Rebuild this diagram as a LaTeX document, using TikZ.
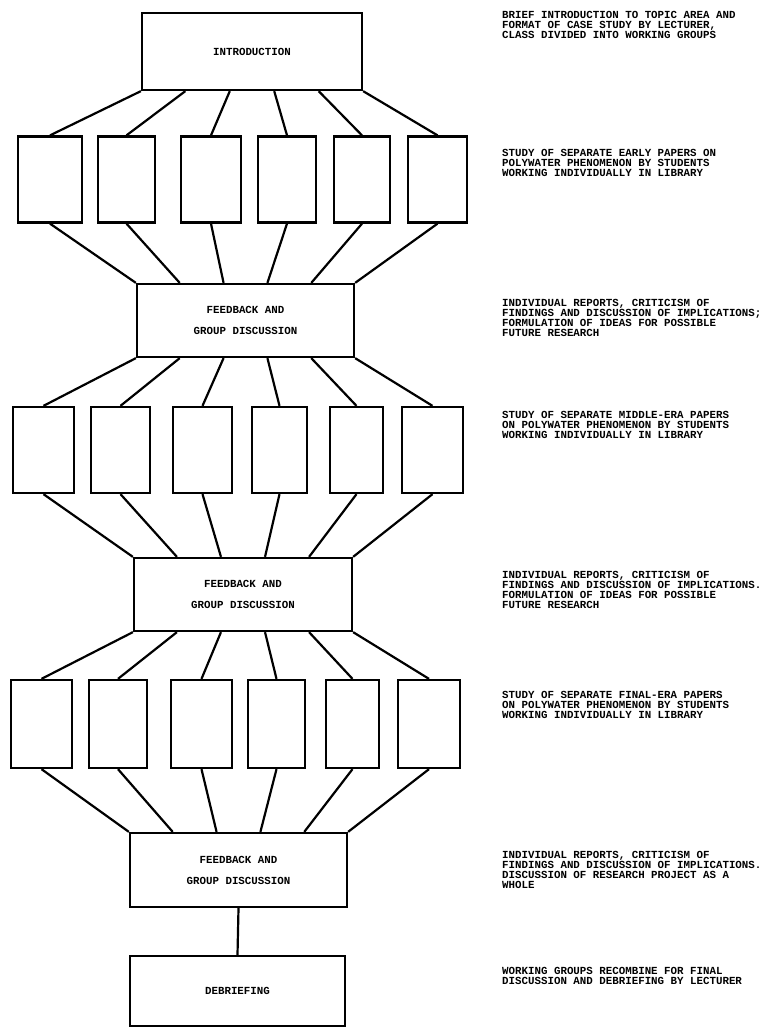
\documentclass[tikz,border=0pt]{standalone}
\usepackage{fontspec}
\newfontfamily\scanfont{Liberation Mono}
\usetikzlibrary{calc}

\tikzset{
  stage/.style={draw, line width=2.3pt, inner sep=0pt, align=center,
    font=\scanfont\bfseries\fontsize{10.8}{21}\selectfont},
  paper/.style={draw, line width=2.3pt, inner sep=0pt, minimum height=86pt},
  note/.style={anchor=north west, inner sep=0pt, align=left,
    font=\scanfont\bfseries\fontsize{10.8}{9.8}\selectfont},
  link/.style={line width=2.2pt}
}

\begin{document}
\begin{tikzpicture}[x=1pt, y=-1pt]
	\useasboundingbox (0,0) rectangle (766,1028);

	\node[stage, minimum width=220pt, minimum height=77pt] (intro) at (252,51.5) {INTRODUCTION};
	\node[stage, minimum width=217pt, minimum height=73pt] (fba) at (245.5,320.5) {FEEDBACK AND\\GROUP DISCUSSION};
	\node[stage, minimum width=218pt, minimum height=73pt] (fbb) at (243,594.5) {FEEDBACK AND\\GROUP DISCUSSION};
	\node[stage, minimum width=217pt, minimum height=74pt] (fbc) at (238.5,870) {FEEDBACK AND\\GROUP DISCUSSION};
	\node[stage, minimum width=215pt, minimum height=70pt] (debrief) at (237.5,991) {DEBRIEFING};

	% library papers, three rounds
	\foreach \x/\w [count=\i] in {50/64, 126.5/57, 211/60, 287/58, 362/56, 437.5/59}
		\node[paper, minimum width=\w pt] (a\i) at (\x,179.5) {};
	\foreach \x/\w [count=\i] in {43.5/61, 120.5/59, 202.5/59, 279.5/55, 356.5/53, 432.5/61}
		\node[paper, minimum width=\w pt] (b\i) at (\x,450) {};
	\foreach \x/\w [count=\i] in {41.5/61, 118/58, 201.5/61, 276.5/57, 352.5/53, 429/62}
		\node[paper, minimum width=\w pt, minimum height=88pt] (c\i) at (\x,724) {};

	\foreach \i [evaluate=\i as \k using (\i-1)/5] in {1,...,6}{
		\draw[link] ($(intro.south west)!\k!(intro.south east)$) -- (a\i.north);
		\draw[link] (a\i.south) -- ($(fba.north west)!\k!(fba.north east)$);
		\draw[link] ($(fba.south west)!\k!(fba.south east)$) -- (b\i.north);
		\draw[link] (b\i.south) -- ($(fbb.north west)!\k!(fbb.north east)$);
		\draw[link] ($(fbb.south west)!\k!(fbb.south east)$) -- (c\i.north);
		\draw[link] (c\i.south) -- ($(fbc.north west)!\k!(fbc.north east)$);
	}
	\draw[link] (fbc.south) -- (debrief.north);

	% notes on the right
	\node[note] (t1) at (502,11.5) {BRIEF INTRODUCTION TO TOPIC AREA AND\\FORMAT OF CASE STUDY BY LECTURER,\\CLASS DIVIDED INTO WORKING GROUPS};
	\node[note] (t2) at (502,149.5) {STUDY OF SEPARATE EARLY PAPERS ON\\POLYWATER PHENOMENON BY STUDENTS\\WORKING INDIVIDUALLY IN LIBRARY};
	\node[note] (t3) at (502,299.5) {INDIVIDUAL REPORTS, CRITICISM OF\\FINDINGS AND DISCUSSION OF IMPLICATIONS;\\FORMULATION OF IDEAS FOR POSSIBLE\\FUTURE RESEARCH};
	\node[note] (t4) at (502,411.5) {STUDY OF SEPARATE MIDDLE-ERA PAPERS\\ON POLYWATER PHENOMENON BY STUDENTS\\WORKING INDIVIDUALLY IN LIBRARY};
	\node[note] (t5) at (502,571.5) {INDIVIDUAL REPORTS, CRITICISM OF\\FINDINGS AND DISCUSSION OF IMPLICATIONS.\\FORMULATION OF IDEAS FOR POSSIBLE\\FUTURE RESEARCH};
	\node[note] (t6) at (502,691.5) {STUDY OF SEPARATE FINAL-ERA PAPERS\\ON POLYWATER PHENOMENON BY STUDENTS\\WORKING INDIVIDUALLY IN LIBRARY};
	\node[note] (t7) at (502,851.5) {INDIVIDUAL REPORTS, CRITICISM OF\\FINDINGS AND DISCUSSION OF IMPLICATIONS.\\DISCUSSION OF RESEARCH PROJECT AS A\\WHOLE};
	\node[note] (t8) at (502,967.5) {WORKING GROUPS RECOMBINE FOR FINAL\\DISCUSSION AND DEBRIEFING BY LECTURER};
\end{tikzpicture}
\end{document}
